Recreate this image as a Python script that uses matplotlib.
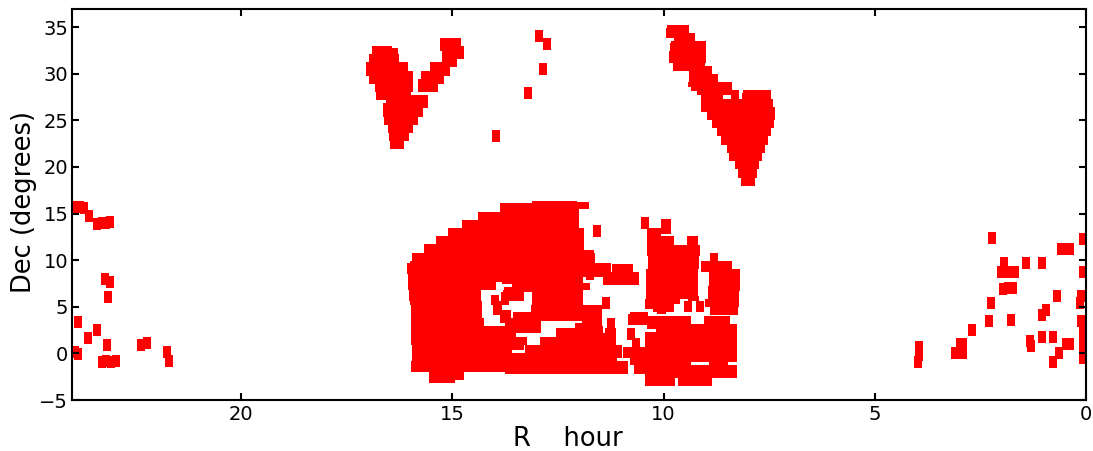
import matplotlib
matplotlib.use("Agg")
import matplotlib.pyplot as plt

# rows of the filled footprint: dec top, dec bottom, RA east, RA west
# the tiles overlap so much here that they are listed as runs along RA
main_rows = [
    (16.32, 16.11, 13.12, 12.05), (16.21, 15.46, 12.05, 11.77), (16.11, 15.14, 13.87, 12.00),
    (15.14, 14.29, 14.39, 12.00), (14.29, 13.43, 14.77, 12.00), (13.43, 12.57, 15.10, 11.89),
    (12.57, 11.71, 15.39, 11.89), (11.71, 11.07, 15.67, 11.89), (11.07, 10.75, 15.67, 11.65),
    (10.75, 9.89, 15.96, 11.63), (9.89, 9.68, 16.00, 11.63), (9.68, 8.57, 16.07, 11.25),
    (8.57, 7.64, 16.05, 11.91), (8.18, 7.86, 11.84, 11.65), (9.57, 8.71, 11.22, 10.73),
    (8.71, 7.32, 11.44, 10.59), (8.57, 8.18, 11.91, 11.44), (7.54, 6.79, 11.91, 11.74),
    (7.64, 7.43, 16.05, 13.97), (7.64, 7.43, 13.83, 11.91),
    (7.43, 7.11, 16.05, 13.97), (7.43, 7.11, 13.59, 11.91),
    (7.11, 6.79, 16.05, 13.97), (7.11, 6.79, 13.78, 11.91),
    (6.79, 6.57, 16.03, 14.32), (6.79, 6.57, 13.80, 11.91),
    (6.57, 6.25, 16.03, 14.32), (6.57, 6.25, 13.85, 13.31), (6.57, 6.25, 13.12, 11.91),
    (6.25, 5.61, 16.03, 14.32), (6.25, 5.61, 14.09, 13.90), (6.25, 5.61, 13.85, 13.31), (6.25, 5.61, 13.12, 11.91),
    (5.61, 5.18, 16.00, 14.30), (5.61, 5.18, 14.09, 13.66), (5.61, 5.18, 13.12, 11.91),
    (5.18, 4.64, 15.98, 14.30), (5.18, 4.64, 14.04, 13.83), (5.18, 4.64, 13.14, 11.46),
    (4.64, 4.43, 15.98, 14.30), (4.64, 4.43, 14.04, 13.61), (4.64, 4.43, 13.14, 11.46),
    (4.43, 4.11, 15.98, 14.30), (4.43, 4.11, 14.04, 13.61), (4.43, 4.11, 13.57, 11.46),
    (4.11, 3.79, 15.98, 14.30), (4.11, 3.79, 13.87, 13.61), (4.11, 3.79, 13.57, 11.46),
    (3.79, 3.46, 15.98, 14.25), (3.79, 3.46, 13.87, 11.46),
    (3.46, 3.25, 15.98, 14.25), (3.46, 3.25, 13.87, 12.90), (3.46, 3.25, 11.93, 11.46),
    (3.25, 2.93, 15.98, 14.25), (3.25, 2.93, 13.76, 12.90), (3.25, 2.93, 12.10, 11.46),
    (2.93, 2.71, 15.98, 12.90), (2.93, 2.71, 12.10, 11.44),
    (2.71, 2.18, 15.98, 12.90), (2.71, 2.18, 12.55, 11.44), (2.71, 2.18, 11.39, 11.13),
    (2.18, 1.75, 15.98, 13.50), (2.18, 1.75, 12.55, 11.13),
    (1.75, 0.89, 15.98, 13.24), (1.75, 0.89, 12.93, 11.13),
    (0.89, 0.36, 15.96, 13.31), (0.89, 0.36, 13.28, 10.99),
    (0.36, 0.04, 15.96, 13.59), (0.36, 0.04, 13.28, 10.99),
    (0.04, -0.50, 15.96, 10.99), (-0.50, -0.82, 15.96, 11.11), (-0.82, -2.00, 15.98, 10.85),
    (-2.00, -2.21, 15.55, 14.73), (-2.00, -2.21, 13.76, 10.85),
    (-2.21, -2.86, 15.55, 14.73), (-2.86, -3.18, 15.55, 14.94),
]

east_rows = [
    (14.39, 12.79, 10.06, 9.83), (13.43, 12.57, 10.40, 10.06), (12.57, 11.61, 10.40, 9.76),
    (12.57, 11.61, 9.45, 9.19), (11.61, 10.43, 10.40, 9.14), (10.43, 9.04, 10.37, 9.17),
    (9.04, 6.14, 10.42, 9.19), (6.14, 5.82, 10.42, 9.17), (5.82, 5.61, 10.44, 9.62),
    (5.82, 5.61, 9.43, 9.17), (5.61, 5.29, 10.44, 9.62), (5.61, 4.43, 9.52, 9.33),
    (5.61, 4.43, 9.24, 9.05), (5.29, 4.75, 10.44, 9.76), (4.75, 4.43, 10.25, 9.76),
    (4.43, 4.21, 10.16, 9.95),
    (10.75, 9.89, 8.91, 8.72), (9.89, 8.71, 9.12, 8.39), (9.04, 6.68, 8.93, 8.20),
    (7.21, 5.82, 8.95, 8.22), (5.82, 4.96, 9.02, 8.22), (4.96, 4.11, 8.91, 8.24),
    (4.43, 4.21, 10.80, 10.37), (4.21, 3.04, 10.85, 10.37), (4.00, 3.14, 10.37, 9.36),
    (4.00, 3.14, 9.05, 8.43), (3.14, 2.61, 10.40, 8.27), (2.61, 2.29, 10.18, 8.27),
    (2.29, 0.68, 10.44, 8.27), (0.68, -0.50, 10.96, 8.27), (-0.50, -0.93, 10.80, 8.27),
    (-0.93, -1.25, 10.80, 9.36), (-0.93, -1.25, 8.93, 8.48), (-1.25, -2.21, 10.70, 8.27),
    (-2.21, -2.64, 10.44, 8.27), (-2.64, -3.50, 10.44, 9.73), (-2.64, -3.50, 9.66, 8.86),
]

north_left_rows = [
    (32.95, 32.73, 16.90, 16.43), (32.73, 32.09, 16.90, 16.28), (32.09, 31.23, 16.97, 16.26),
    (31.23, 30.27, 17.04, 16.05), (30.27, 29.73, 17.04, 15.93), (29.73, 28.88, 16.97, 15.93),
    (28.88, 28.02, 16.83, 15.93), (28.02, 27.70, 16.80, 15.97), (27.70, 27.16, 16.80, 15.57),
    (27.16, 26.84, 16.57, 15.57), (26.84, 26.34, 16.64, 15.57), (26.34, 25.34, 16.64, 15.69),
    (25.34, 24.48, 16.62, 15.81), (24.48, 23.63, 16.52, 15.93), (23.63, 22.77, 16.50, 16.02),
    (22.77, 21.91, 16.47, 16.14),
    (33.80, 32.95, 15.29, 14.79), (32.95, 32.41, 15.29, 14.72), (32.41, 32.09, 15.24, 14.72),
    (32.09, 31.55, 15.24, 14.72), (31.55, 31.23, 15.24, 14.89), (31.23, 30.70, 15.53, 14.89),
    (30.70, 30.27, 15.53, 15.05), (30.27, 29.73, 15.74, 15.05), (29.73, 29.41, 15.74, 15.20),
    (29.41, 28.88, 15.81, 15.20), (28.88, 28.02, 15.81, 15.34),
]

north_right_rows = [
    (35.20, 34.88, 9.92, 9.40), (34.88, 34.34, 9.94, 9.40), (34.34, 33.80, 9.94, 9.26),
    (33.80, 33.48, 9.75, 9.26), (33.48, 33.27, 9.83, 9.00), (33.27, 32.41, 9.85, 9.00),
    (32.41, 31.13, 9.87, 9.00), (31.13, 30.80, 9.78, 9.02), (30.80, 30.27, 9.78, 8.86),
    (30.27, 29.95, 9.40, 8.86), (29.95, 29.09, 9.40, 8.71), (29.09, 28.55, 9.42, 8.38),
    (28.55, 28.13, 9.35, 8.38), (28.13, 27.70, 9.21, 8.38), (28.23, 27.27, 8.41, 8.22),
    (28.23, 27.27, 8.12, 7.46), (27.91, 27.27, 8.15, 8.12), (27.70, 27.27, 9.12, 8.60),
    (27.27, 26.41, 9.12, 7.41), (26.41, 25.88, 9.12, 7.37), (25.88, 25.02, 8.97, 7.37),
    (25.02, 24.16, 8.86, 7.39), (24.16, 23.30, 8.74, 7.46), (23.30, 22.34, 8.64, 7.53),
    (22.34, 21.48, 8.50, 7.60), (21.48, 20.63, 8.45, 7.67), (20.63, 19.77, 8.31, 7.74),
    (19.77, 18.80, 8.24, 7.79), (18.80, 17.95, 8.17, 7.84),
]

# isolated tiles
ra_tiles_west = [23.91, 23.81, 23.71, 23.59, 23.41, 23.30, 23.20, 23.10, 23.21, 23.10, 23.14, 23.85,
                 23.61, 23.40, 23.92, 23.85, 23.17, 23.30, 23.19, 23.08, 22.96, 22.36, 22.23, 21.76, 21.70]
dec_tiles_west = [15.71, 15.71, 15.60, 14.79, 13.93, 14.00, 14.00, 14.10, 7.93, 7.71, 6.00, 3.32,
                  1.61, 2.46, 0.11, -0.11, 0.86, -0.93, -0.79, -0.93, -0.79, 0.89, 1.07, 0.11, -0.86]

ra_tiles_mid = [12.94, 12.75, 12.85, 13.21, 13.97, 11.58, 11.36, 11.25, 10.76, 10.66, 10.43]
dec_tiles_mid = [34.09, 33.23, 30.55, 27.98, 23.30, 13.16, 5.40, 3.14, 2.04, 1.00, 14.00]

ra_tiles_east = [2.22, 0.07, 0.58, 0.47, 0.39, 1.94, 1.43, 1.03, 2.02, 1.90, 1.77, 1.67, 0.07,
                 1.96, 1.85, 1.73, 0.69, 2.26, 0.11, 0.15, 1.03, 0.94, 2.30, 1.78, 2.71,
                 0.11, 0.07, 0.07, 1.03, 0.78, 1.33, 1.29, 0.47, 0.39, 0.65, 0.78, 0.06, 0.07,
                 3.96, 3.96, 3.98, 2.90, 2.99, 3.11, 3.01, 2.91]
dec_tiles_east = [12.36, 12.25, 11.25, 11.25, 11.25, 9.65, 9.75, 9.65, 8.75, 8.75, 8.75, 8.75, 8.75,
                  6.90, 7.00, 7.00, 6.20, 5.36, 6.15, 5.36, 4.11, 4.70, 3.43, 3.54, 2.47,
                  3.50, 2.68, 1.61, 1.72, 1.79, 1.29, 0.79, 0.97, 0.97, 0.00, -0.96, 0.36, -0.53,
                  0.72, -0.17, -0.96, 0.97, 0.97, 0.07, 0.07, 0.07]

xticks = [20, 15, 10, 5, 0]
yticks = [-5, 0, 5, 10, 15, 20, 25, 30, 35]

fig = plt.figure(figsize=(10.93, 4.51), dpi=100)
ax = fig.add_axes([72 / 1093, 1 - 400 / 451, 1014 / 1093, 391.5 / 451])

for rows in [main_rows, east_rows, north_left_rows, north_right_rows]:
    for top, bottom, east, west in rows:
        ax.barh((top + bottom) / 2, west - east, height=top - bottom, left=east,
                color="#ff0000", linewidth=0, antialiased=False)

tile = [(-0.38, -0.5), (0.38, -0.5), (0.38, 0.5), (-0.38, 0.5)]
ax.scatter(ra_tiles_west + ra_tiles_mid + ra_tiles_east,
           dec_tiles_west + dec_tiles_mid + dec_tiles_east,
           marker=tile, s=68, color="#ff0000", linewidths=0)

ax.set_xlim(24, 0)
ax.set_ylim(-5, 37)
ax.set_xticks(xticks)
ax.set_yticks(yticks)
ax.tick_params(direction="in", top=True, right=True, length=5, width=1.5, labelsize=14)
ax.tick_params(axis="x", pad=3.4)
ax.tick_params(axis="y", pad=2.7)
for spine in ax.spines.values():
    spine.set_linewidth(1.5)
ax.set_xlabel("R    hour", fontsize=18.5, labelpad=2, x=0.489)
ax.set_ylabel("Dec (degrees)", fontsize=18.5, labelpad=2, y=0.505)

fig.savefig("out.png", dpi=100)
